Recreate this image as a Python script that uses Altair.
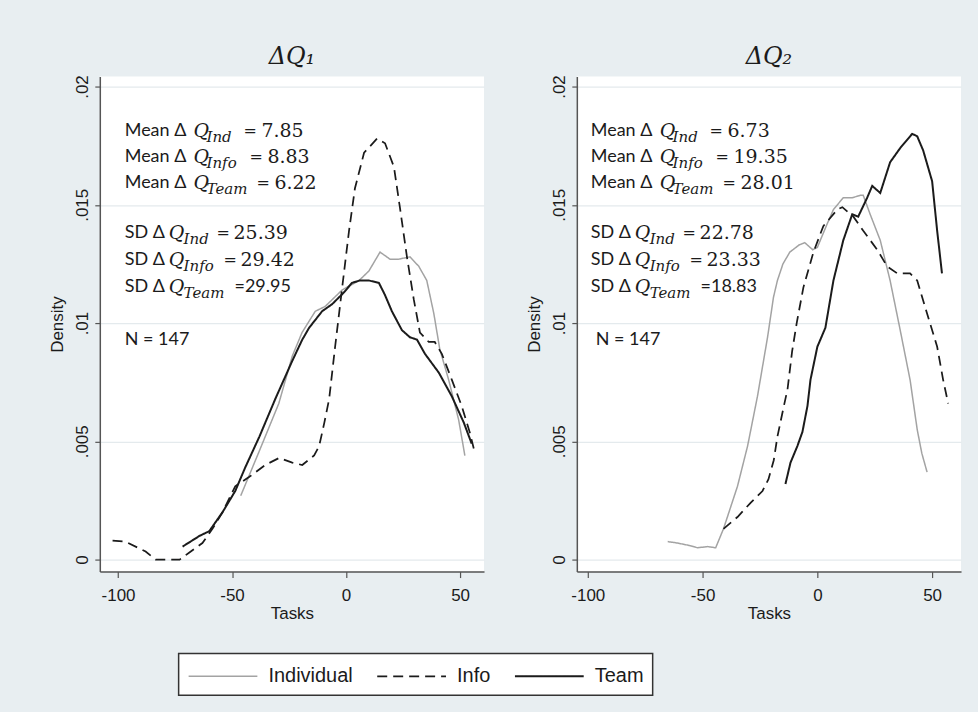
import altair as alt
import pandas as pd

SERIES = ["Individual", "Info", "Team"]

# ---------------- Panel ΔQ1 : kernel density curves (Tasks, Density) ----------------
q1_ind_x = [-46.2, -38.0, -29.5, -23.6, -19.3, -13.5, -9.2, -1.7, 5.7, 10.0, 14.9, 19.3, 23.0, 28.0,
            31.9, 35.4, 38.5, 41.1, 45.0, 49.4, 52.1]
q1_ind_y = [0.0027, 0.0046, 0.0066, 0.0086, 0.0096, 0.0105, 0.0107, 0.0114, 0.0118, 0.0122, 0.0130,
            0.0127, 0.0127, 0.0128, 0.0124, 0.0118, 0.0104, 0.0089, 0.0076, 0.0059, 0.0044]

q1_info_x = [-102.4, -96.7, -87.9, -83.5, -73.0, -68.7, -63.0, -58.6, -54.2, -48.6, -42.4, -35.4,
             -29.3, -23.6, -19.2, -14.0, -11.8, -9.5, -7.4, -4.8, -1.7, 1.3, 3.9, 7.9, 13.6, 17.1,
             21.0, 23.6, 26.7, 29.7, 32.4, 36.3, 38.9, 42.0, 46.4, 50.7, 54.2, 56.0]
q1_info_y = [0.0008, 0.00076, 0.00034, 0.0, 0.0, 0.0003, 0.0007, 0.0013, 0.0020, 0.0031, 0.0035,
             0.0040, 0.0043, 0.0041, 0.0040, 0.0044, 0.0048, 0.0058, 0.0068, 0.0090, 0.0115, 0.0139,
             0.0157, 0.0172, 0.0178, 0.0176, 0.0166, 0.0149, 0.0128, 0.0110, 0.0096, 0.0092, 0.0092,
             0.0087, 0.0076, 0.0065, 0.0054, 0.0047]

q1_team_x = [-71.7, -64.3, -60.0, -54.2, -48.6, -44.2, -38.0, -31.0, -23.6, -19.2, -16.2, -10.5,
             -6.1, -0.9, 2.6, 6.0, 10.0, 14.4, 17.0, 20.1, 24.5, 28.0, 31.1, 34.6, 40.7, 46.4,
             51.6, 55.1]
q1_team_y = [0.00055, 0.0010, 0.0012, 0.0020, 0.0029, 0.0039, 0.0052, 0.0068, 0.0084, 0.0093,
             0.0098, 0.0105, 0.0108, 0.0113, 0.0117, 0.0118, 0.0118, 0.0117, 0.0112, 0.0105,
             0.0097, 0.0094, 0.0093, 0.0087, 0.0079, 0.0069, 0.0058, 0.0049]

# ---------------- Panel ΔQ2 ----------------
q2_ind_x = [-65.2, -60.9, -56.0, -52.2, -47.8, -44.3, -40.9, -34.8, -30.4, -26.1, -21.7, -19.1,
            -17.4, -15.0, -12.0, -8.0, -5.5, -2.0, 0.0, 4.3, 7.0, 11.3, 15.2, 18.7, 20.0, 23.0,
            27.4, 31.7, 36.1, 40.4, 43.5, 45.5, 47.8]
q2_ind_y = [0.00076, 0.0007, 0.0006, 0.0005, 0.00055, 0.0005, 0.0013, 0.0031, 0.0048, 0.0069,
            0.0094, 0.0111, 0.0118, 0.0125, 0.0130, 0.0133, 0.0134, 0.0131, 0.0132, 0.0142,
            0.0148, 0.0153, 0.0153, 0.0154, 0.0154, 0.0146, 0.0135, 0.0118, 0.0097, 0.0076,
            0.0055, 0.0045, 0.0037]

q2_info_x = [-40.9, -34.8, -29.1, -23.9, -21.3, -19.0, -17.4, -14.8, -13.0, -11.0, -9.0, -6.1,
             -1.7, 2.6, 8.7, 10.9, 15.7, 20.0, 26.1, 30.4, 34.8, 40.4, 43.5, 47.8, 52.2, 54.8, 57.0]
q2_info_y = [0.0013, 0.0018, 0.0024, 0.0029, 0.0034, 0.0042, 0.0052, 0.0064, 0.0072, 0.0088,
             0.0100, 0.0115, 0.0130, 0.0141, 0.0148, 0.0149, 0.0145, 0.0139, 0.0131, 0.0124,
             0.0121, 0.0121, 0.0118, 0.0104, 0.0090, 0.0076, 0.0066]

q2_team_x = [-13.9, -11.7, -8.7, -6.5, -4.3, -3.0, 0.0, 3.5, 7.0, 11.3, 15.2, 17.8, 21.7, 23.9,
             27.4, 31.7, 36.1, 41.3, 43.5, 46.1, 50.0, 52.2, 54.3]
q2_team_y = [0.0032, 0.0041, 0.0048, 0.0054, 0.0065, 0.0076, 0.0090, 0.0098, 0.0118, 0.0135,
             0.0146, 0.0145, 0.0153, 0.0158, 0.0155, 0.0168, 0.0174, 0.0180, 0.0179, 0.0173,
             0.0160, 0.0139, 0.0121]

# ---------------- Summary statistics shown in each panel ----------------
sub_labels = ["Ind", "Info", "Team"]
q1_means = ["7.85", "8.83", "6.22"]
q1_sds = ["25.39", "29.42", "29.95"]
q2_means = ["6.73", "19.35", "28.01"]
q2_sds = ["22.78", "23.33", "18.83"]
n_obs = 147

# ---------------- layout (pixel geometry, not data) ----------------
PLOT_W, PLOT_H = 385, 496
Y_DOMAIN = [-0.000506, 0.020422]
X_DOMAIN = {"q1": [-108.0, 60.5], "q2": [-104.8, 62.6]}
TEXT_ANCHOR = {"q1": 123 - 98, "q2": 590 - 576}   # px from plot left
N_ANCHOR = {"q1": 123 - 98, "q2": 595 - 576}
MEAN_ROWS = [131, 157, 183]                      # px from window top (plot top = 76)
SD_ROWS = [233, 260, 287]
N_ROW = 340
PLOT_TOP = 76
MEAN_OFF = {"Q": 69, "sub": 82, "eq": [119, 125, 132], "num": [137, 143, 150]}
SD_OFF = {"Q": 44, "sub": 59, "eq": [92, 99, None], "num": [109, 116, 110]}

GRAY = "#a3a3a3"
INK = "#1b1b1b"
BG = "#e8eef1"


def curves(xs_ys):
    frames = []
    for name, (xs, ys) in zip(SERIES, xs_ys):
        frames.append(pd.DataFrame({"series": name, "Tasks": xs, "Density": ys,
                                    "order": list(range(len(xs)))}))
    return pd.concat(frames, ignore_index=True)


def px_to_x(panel, px):
    lo, hi = X_DOMAIN[panel]
    return lo + px * (hi - lo) / PLOT_W


def px_to_y(py):
    lo, hi = Y_DOMAIN
    return hi - (py - PLOT_TOP) * (hi - lo) / PLOT_H


def annotations(panel, means, sds):
    rows = []
    a = TEXT_ANCHOR[panel]

    def add(piece, text, off, y):
        rows.append({"piece": piece, "text": text, "Tasks": px_to_x(panel, a + off), "Density": y})

    for i, (lab, m) in enumerate(zip(sub_labels, means)):
        y = px_to_y(MEAN_ROWS[i])
        add("prefix", "Mean Δ", 0, y)
        add("Q", "Q", MEAN_OFF["Q"], y)
        add("sub", lab, MEAN_OFF["sub"], y)
        add("eq", "=", MEAN_OFF["eq"][i], y)
        add("num", m, MEAN_OFF["num"][i], y)
    for i, (lab, s) in enumerate(zip(sub_labels, sds)):
        y = px_to_y(SD_ROWS[i])
        add("prefix", "SD Δ", 0, y)
        add("Q", "Q", SD_OFF["Q"], y)
        add("sub", lab, SD_OFF["sub"], y)
        if SD_OFF["eq"][i] is None:
            add("prefix", "=" + s, SD_OFF["num"][i], y)
        else:
            add("eq", "=", SD_OFF["eq"][i], y)
            add("num", s, SD_OFF["num"][i], y)
    rows.append({"piece": "prefix", "text": f"N = {n_obs}",
                 "Tasks": px_to_x(panel, N_ANCHOR[panel]), "Density": px_to_y(N_ROW)})
    return pd.DataFrame(rows)


# a short symbol box (26 px) with a line reaching 69 px to the right of the entry start
legend = alt.Legend(
    orient="none", legendX=79, legendY=578, direction="horizontal", title=None,
    symbolType="M-1,0H4.3", symbolSize=676, symbolStrokeWidth=2,
    labelFont="Liberation Sans", labelFontSize=20, labelColor=INK,
    labelOffset=53, columnPadding=20, padding=9,
)


def panel_chart(panel, title, curve_df, ann_df):
    xs = alt.Scale(domain=X_DOMAIN[panel], nice=False, zero=False)
    ys = alt.Scale(domain=Y_DOMAIN, nice=False, zero=False)
    x_axis = alt.Axis(values=[-100, -50, 0, 50], title="Tasks", grid=False,
                      labelExpr="datum.value + ''", tickSize=6, labelPadding=10, titlePadding=2)
    y_axis = alt.Axis(values=[0, 0.005, 0.01, 0.015, 0.02], title="Density", grid=True,
                      labelExpr="replace(format(datum.value, '.3~f'), '0.', '.')",
                      labelAngle=270, labelAlign="center", labelBaseline="bottom",
                      tickSize=5, labelPadding=3, titlePadding=7)

    lines = alt.Chart(curve_df).mark_line(clip=True).encode(
        x=alt.X("Tasks:Q", scale=xs, axis=x_axis),
        y=alt.Y("Density:Q", scale=ys, axis=y_axis),
        color=alt.Color("series:N", scale=alt.Scale(domain=SERIES, range=[GRAY, INK, INK]),
                        legend=legend),
        strokeDash=alt.StrokeDash("series:N",
                                  scale=alt.Scale(domain=SERIES, range=[[1, 0], [10, 6], [1, 0]]),
                                  legend=legend),
        strokeWidth=alt.StrokeWidth("series:N",
                                    scale=alt.Scale(domain=SERIES, range=[1.5, 2.0, 2.2]),
                                    legend=None),
        detail="series:N",
        order="order:Q",
    )

    base = alt.Chart(ann_df).encode(
        x=alt.X("Tasks:Q", scale=xs), y=alt.Y("Density:Q", scale=ys), text="text:N")
    t_prefix = base.transform_filter(alt.datum.piece == "prefix").mark_text(
        align="left", baseline="middle", font="Lato", fontSize=18, color=INK)
    t_q = base.transform_filter(alt.datum.piece == "Q").mark_text(
        align="left", baseline="middle", font="DejaVu Serif", fontStyle="italic",
        fontSize=19, color=INK)
    t_sub = base.transform_filter(alt.datum.piece == "sub").mark_text(
        align="left", baseline="middle", font="DejaVu Serif", fontStyle="italic",
        fontSize=15, dy=6, color=INK)
    t_eq = base.transform_filter(alt.datum.piece == "eq").mark_text(
        align="left", baseline="middle", font="DejaVu Serif", fontSize=16, color=INK)
    t_num = base.transform_filter(alt.datum.piece == "num").mark_text(
        align="left", baseline="middle", font="DejaVu Serif", fontSize=19, color=INK)

    return alt.layer(lines, t_prefix, t_q, t_sub, t_eq, t_num).properties(
        width=PLOT_W, height=PLOT_H,
        title=alt.TitleParams(text=title, font="DejaVu Serif", fontStyle="italic",
                              fontSize=24, fontWeight="normal", color=INK,
                              anchor="middle", offset=6),
    )


left = panel_chart("q1", "ΔQ₁",
                   curves([(q1_ind_x, q1_ind_y), (q1_info_x, q1_info_y), (q1_team_x, q1_team_y)]),
                   annotations("q1", q1_means, q1_sds))
right = panel_chart("q2", "ΔQ₂",
                    curves([(q2_ind_x, q2_ind_y), (q2_info_x, q2_info_y), (q2_team_x, q2_team_y)]),
                    annotations("q2", q2_means, q2_sds))

chart = alt.hconcat(left, right, spacing=42).resolve_scale(x="independent").properties(
    background=BG,
    padding={"left": 49, "top": 44, "right": 17, "bottom": 15},
).configure_view(
    fill="white", stroke=None,
).configure_axis(
    labelFont="Liberation Sans", labelFontSize=17, labelColor=INK,
    titleFont="Liberation Sans", titleFontSize=17, titleFontWeight="normal", titleColor=INK,
    domainColor="#555555", domainWidth=1.5, tickColor="#555555", tickWidth=1.2,
    gridColor="#e4eaed", gridWidth=1.2,
).configure_legend(
    fillColor="white", strokeColor="#333333", strokeWidth=1.5,
)

chart.save("out.html", embed_options={"renderer": "svg", "actions": False})
